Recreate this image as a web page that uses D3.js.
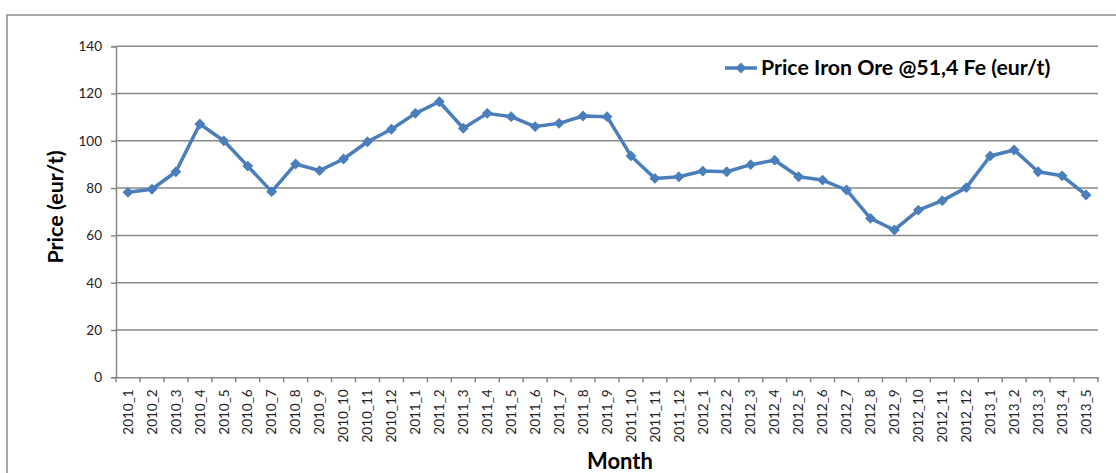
<!DOCTYPE html>
<html><head><meta charset="utf-8">
<script src="https://cdn.jsdelivr.net/npm/d3@7"></script>
<style>body{margin:0;background:#fff}svg{display:block}</style>
</head><body>
<svg id="c" width="1116" height="473"></svg>
<script>
const months = ["2010_1","2010_2","2010_3","2010_4","2010_5","2010_6","2010_7","2010_8","2010_9","2010_10","2010_11","2010_12",
"2011_1","2011_2","2011_3","2011_4","2011_5","2011_6","2011_7","2011_8","2011_9","2011_10","2011_11","2011_12",
"2012_1","2012_2","2012_3","2012_4","2012_5","2012_6","2012_7","2012_8","2012_9","2012_10","2012_11","2012_12",
"2013_1","2013_2","2013_3","2013_4","2013_5"];
const prices = [78.2,79.5,86.9,107.1,100.0,89.3,78.5,90.2,87.4,92.3,99.6,104.9,
111.6,116.5,105.3,111.6,110.2,106.0,107.4,110.5,110.2,93.6,84.1,84.8,
87.2,86.9,89.9,91.8,84.8,83.4,79.2,67.2,62.3,70.7,74.7,80.2,
93.6,96.1,86.9,85.2,77.1];
const yTicks = [0,20,40,60,80,100,120,140];
const seriesName = "Price Iron Ore @51,4 Fe (eur/t)";

const svg = d3.select("#c");
const L = 116, R = 1098, T = 46.2, B = 377.3;
const color = "#4a7ebb", grid = "#878787";
const font = "Lato, 'Open Sans', sans-serif";

// outer frame
svg.append("rect").attr("x",7).attr("y",15).attr("width",1130).attr("height",480)
  .attr("fill","none").attr("stroke","#8c8c8c").attr("stroke-width",1.5);

const x = d3.scaleBand().domain(months).range([L,R]).padding(0);
const y = d3.scaleLinear().domain([0,140]).range([B,T]);

// gridlines
svg.append("g").selectAll("line").data(yTicks.filter(d=>d>0)).join("line")
  .attr("x1",L).attr("x2",R).attr("y1",d=>y(d)).attr("y2",d=>y(d))
  .attr("stroke",grid).attr("stroke-width",1.5);

// y axis
const ya = svg.append("g").attr("transform",`translate(${L},0)`)
  .call(d3.axisLeft(y).tickValues(yTicks).tickSize(5).tickPadding(9));
ya.select(".domain").attr("stroke",grid).attr("stroke-width",1.5);
ya.selectAll(".tick line").attr("stroke",grid).attr("stroke-width",1.5);
ya.selectAll("text").attr("font-family",font).attr("font-size","13.5px").attr("fill","#222");

// x axis
const xa = svg.append("g").attr("transform",`translate(0,${B})`)
  .call(d3.axisBottom(x).tickSize(0).tickPadding(0));
xa.select(".domain").attr("stroke",grid).attr("stroke-width",1.5);
xa.selectAll(".tick text").attr("font-family",font).attr("font-size","13.5px").attr("fill","#222")
  .attr("transform","rotate(-90)").attr("text-anchor","end").attr("dy","0.35em").attr("x",-12).attr("y",0);
// boundary ticks
const edges = months.map(m=>x(m)).concat([x(months[months.length-1])+x.bandwidth()]);
svg.append("g").selectAll("line").data(edges).join("line")
  .attr("x1",d=>d).attr("x2",d=>d).attr("y1",B).attr("y2",B+5)
  .attr("stroke",grid).attr("stroke-width",1.5);

// line
const cx = m => x(m)+x.bandwidth()/2;
svg.append("path").datum(prices)
  .attr("d", d3.line().x((d,i)=>cx(months[i])).y(d=>y(d)))
  .attr("fill","none").attr("stroke",color).attr("stroke-width",3.5).attr("stroke-linejoin","round");
const diamond = d3.symbol().type(d3.symbolDiamond2).size(75);
svg.append("g").selectAll("path").data(prices).join("path")
  .attr("d",diamond).attr("transform",(d,i)=>`translate(${cx(months[i])},${y(d)})`)
  .attr("fill",color);

// legend
const lg = svg.append("g");
lg.append("line").attr("x1",725).attr("x2",757).attr("y1",68).attr("y2",68).attr("stroke",color).attr("stroke-width",3.5);
lg.append("path").attr("d",diamond).attr("transform","translate(741,68)").attr("fill",color);
lg.append("text").attr("x",761).attr("y",75).attr("font-family",font).attr("font-weight","bold")
  .attr("font-size","21.3px").attr("fill","#000").text(seriesName);

// axis titles
svg.append("text").attr("transform","translate(63,207) rotate(-90)").attr("text-anchor","middle")
  .attr("font-family",font).attr("font-weight","bold").attr("font-size","21.5px").attr("fill","#000").text("Price (eur/t)");
svg.append("text").attr("x",620).attr("y",469).attr("text-anchor","middle")
  .attr("font-family",font).attr("font-weight","bold").attr("font-size","22px").attr("fill","#000").text("Month");
</script>
</body></html>
